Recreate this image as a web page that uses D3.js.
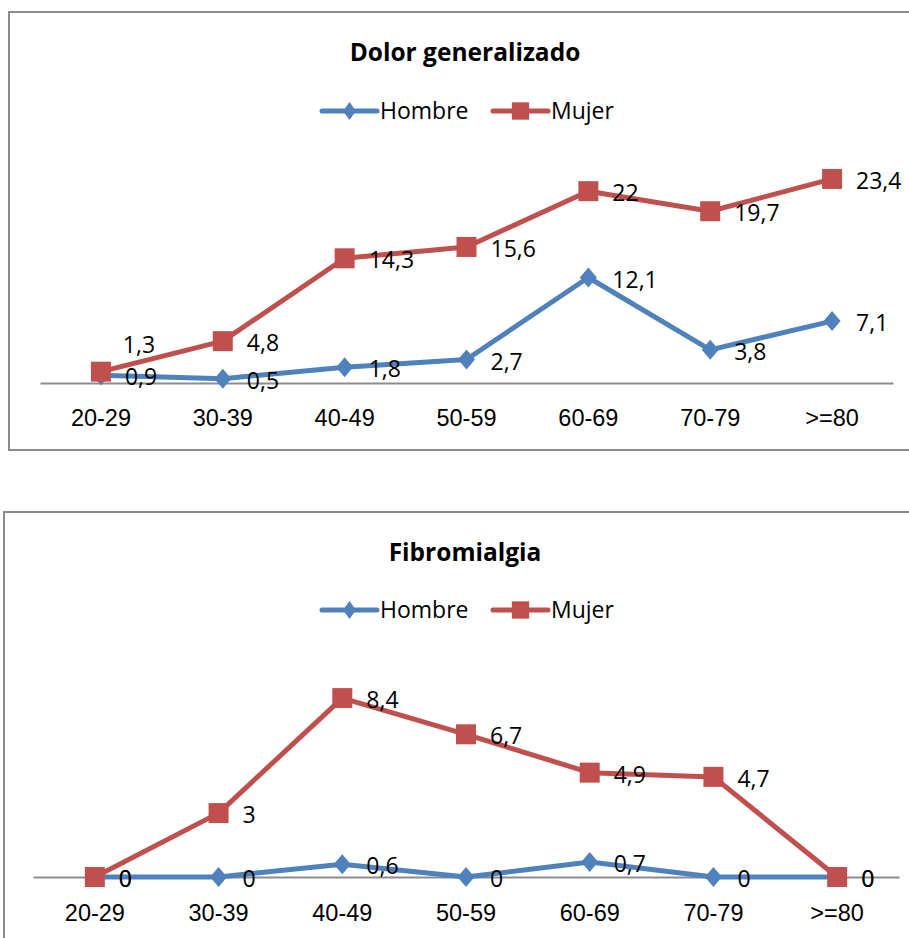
<!DOCTYPE html>
<html>
<head>
<meta charset="utf-8">
<script src="https://cdn.jsdelivr.net/npm/d3@7/dist/d3.min.js"></script>
<style>
  html, body { margin: 0; padding: 0; background: #fff; }
  svg { display: block; font-family: "Open Sans", "Noto Sans", sans-serif; }
</style>
</head>
<body>
<svg id="chart" width="909" height="938"></svg>
<script>
// Prevalencia por grupo de edad y sexo
const categories = ["20-29", "30-39", "40-49", "50-59", "60-69", "70-79", ">=80"];
const seriesNames = ["Hombre", "Mujer"];
const titles = ["Dolor generalizado", "Fibromialgia"];
const dolorHombre = [0.9, 0.5, 1.8, 2.7, 12.1, 3.8, 7.1];
const dolorMujer = [1.3, 4.8, 14.3, 15.6, 22, 19.7, 23.4];
const fibroHombre = [0, 0, 0.6, 0, 0.7, 0, 0];
const fibroMujer = [0, 3, 8.4, 6.7, 4.9, 4.7, 0];

const colors = { Hombre: "#4F81BD", Mujer: "#C0504D" };
const fmt = v => String(v).replace(".", ",");

// Panel layout
const panels = [
  {
    title: titles[0], values: { Hombre: dolorHombre, Mujer: dolorMujer },
    frame: { x: 9, y: 12, w: 915, h: 438 },
    xRange: [40, 893], axisY: 383, yMax: 25, plotTop: 165,
    titleY: 52, legendY: 111, catY: 418,
    above: { Mujer: [0] }
  },
  {
    title: titles[1], values: { Hombre: fibroHombre, Mujer: fibroMujer },
    frame: { x: 4, y: 512, w: 925, h: 440 },
    xRange: [33, 899], axisY: 877, yMax: 10, plotTop: 664,
    titleY: 552, legendY: 610, catY: 913,
    above: {}
  }
];

const svg = d3.select("#chart");

const diamondPath = (w, h) => `M0,${-h / 2}L${w / 2},0L0,${h / 2}L${-w / 2},0Z`;
const markerPath = {
  Hombre: diamondPath(17, 20),
  Mujer: d3.symbol(d3.symbolSquare, 400)()
};
const legendMarker = {
  Hombre: diamondPath(13, 18),
  Mujer: d3.symbol(d3.symbolSquare, 300)()
};

panels.forEach(p => {
  const g = svg.append("g");

  g.append("rect")
    .attr("x", p.frame.x).attr("y", p.frame.y)
    .attr("width", p.frame.w).attr("height", p.frame.h)
    .attr("fill", "#fff").attr("stroke", "#8c8c8c").attr("stroke-width", 2);

  const x = d3.scaleBand().domain(categories).range(p.xRange);
  const y = d3.scaleLinear().domain([0, p.yMax]).range([p.axisY, p.plotTop]);
  const cx = c => x(c) + x.bandwidth() / 2;

  // Title
  g.append("text")
    .attr("x", 465).attr("y", p.titleY).attr("dy", "0.35em")
    .attr("text-anchor", "middle")
    .attr("font-size", 24.5).attr("font-weight", "bold")
    .text(p.title);

  // Legend
  const legendX = { Hombre: 322, Mujer: 493 };
  seriesNames.forEach(name => {
    const lg = g.append("g").attr("transform", `translate(${legendX[name]},${p.legendY})`);
    lg.append("line").attr("x1", 0).attr("x2", 55)
      .attr("stroke", colors[name]).attr("stroke-width", 5).attr("stroke-linecap", "round");
    lg.append("path").attr("d", legendMarker[name]).attr("fill", colors[name])
      .attr("transform", "translate(27.5,0)");
    lg.append("text").attr("x", 58).attr("dy", "0.35em")
      .attr("font-size", 23).text(name);
  });

  // Category axis
  const axis = g.append("g")
    .attr("transform", `translate(0,${p.axisY})`)
    .call(d3.axisBottom(x).tickSize(0).tickPadding(0));
  axis.select(".domain").attr("stroke", "#8c8c8c").attr("stroke-width", 2);
  axis.selectAll("text")
    .attr("y", p.catY - p.axisY).attr("dy", "0.35em")
    .attr("font-size", 23.5).attr("font-family", null).attr("fill", "#000");

  // Series lines and markers
  const line = d3.line().x((d, i) => cx(categories[i])).y(d => y(d));
  seriesNames.forEach(name => {
    const vals = p.values[name];
    g.append("path").datum(vals)
      .attr("d", line).attr("fill", "none")
      .attr("stroke", colors[name]).attr("stroke-width", 5)
      .attr("stroke-linejoin", "round");
    g.selectAll(null).data(vals).join("path")
      .attr("d", markerPath[name]).attr("fill", colors[name])
      .attr("transform", (d, i) => `translate(${cx(categories[i])},${y(d)})`);
  });

  // Data labels
  seriesNames.forEach(name => {
    const vals = p.values[name];
    const above = p.above[name] || [];
    g.selectAll(null).data(vals).join("text")
      .attr("font-size", 23).attr("fill", "#000")
      .attr("dy", "0.35em")
      .each(function (d, i) {
        const t = d3.select(this);
        const px = cx(categories[i]), py = y(d);
        if (above.includes(i)) {
          t.attr("x", px + 38).attr("y", py - 27).attr("text-anchor", "middle");
        } else {
          t.attr("x", px + 24).attr("y", py + 2).attr("text-anchor", "start");
        }
      })
      .text(d => fmt(d));
  });
});
</script>
</body>
</html>
